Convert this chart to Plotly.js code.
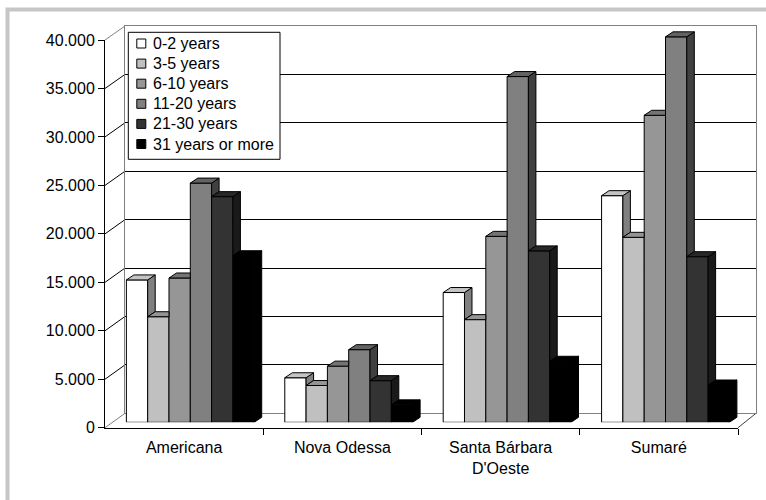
<!DOCTYPE html>
<html>
<head>
<meta charset="utf-8">
<script src="https://cdn.plot.ly/plotly-3.0.1.min.js"></script>
<style>
  html, body { margin: 0; padding: 0; background: #ffffff; }
  #chart { width: 766px; height: 500px; }
</style>
</head>
<body>
<div id="chart"></div>
<script>
// ---------------- DATA ----------------
const categories = ["Americana", "Nova Odessa", "Santa Bárbara<br>D'Oeste", "Sumaré"];
const seriesNames = ["0-2 years", "3-5 years", "6-10 years", "11-20 years", "21-30 years", "31 years or more"];
const years0to2   = [14700, 4600, 13400, 23400];
const years3to5   = [10900, 3800, 10600, 19100];
const years6to10  = [14900, 5800, 19200, 31700];
const years11to20 = [24700, 7500, 35700, 39800];
const years21to30 = [23300, 4300, 17700, 17100];
const years31plus = [17200, 1800, 6300, 3850];
const yTickValues = [0, 5000, 10000, 15000, 20000, 25000, 30000, 35000, 40000];

// ---------------- STYLE / GEOMETRY ----------------
const seriesValues = [years0to2, years3to5, years6to10, years11to20, years21to30, years31plus];
const seriesColors = [[255,255,255],[192,192,192],[150,150,150],[128,128,128],[51,51,51],[0,0,0]];
const W = 766, H = 500;
const FONT = "Liberation Sans, Arial, sans-serif";
const fx = px => px / W;
const fy = py => 1 - py / H;

// planes (pixel geometry)
const FRONT = {x0: 105, x1: 738, yZero: 427.7, yMax: 40};
const BACK  = {x0: 125, x1: 756, yZero: 413.3, yMax: 26};
const BARS  = {x0: 111.1, x1: 744.7, yZero: 422.3, pxPerUnit: 9.685 / 1000};
const yMaxVal = 40000;
const barRangeMax = 42000;
const barTopPx = BARS.yZero - barRangeMax * BARS.pxPerUnit;
const bargap = 0.193;
const depthDxPx = 7.5, depthDyPx = 5;

const nCat = categories.length;
const catPx = (BARS.x1 - BARS.x0) / nCat;
const dX = depthDxPx / catPx;               // data units on bar x-axis
const dY = depthDyPx / BARS.pxPerUnit;      // data units on bar y-axis

const rgb = (c, f) => 'rgb(' + c.map(v => Math.round(v * f)).join(',') + ')';

const traces = [];
// empty traces so back wall and front axis subplots exist
traces.push({type: 'scatter', x: [], y: [], xaxis: 'x', yaxis: 'y', showlegend: false, hoverinfo: 'skip'});
traces.push({type: 'scatter', x: [], y: [], xaxis: 'x2', yaxis: 'y2', showlegend: false, hoverinfo: 'skip'});

const nS = seriesValues.length;
const bw = (1 - bargap) / nS;
const catIdx = categories.map((c, i) => i);

// front faces (bars)
seriesValues.forEach((vals, j) => {
  traces.push({
    type: 'bar', name: seriesNames[j], x: catIdx, y: vals,
    xaxis: 'x3', yaxis: 'y3',
    marker: {color: rgb(seriesColors[j], 1), line: {color: '#000', width: 1}},
    showlegend: false, hoverinfo: 'skip'
  });
});

// top and side faces, computed from the same values
seriesValues.forEach((vals, j) => {
  const topX = [], topY = [], sideX = [], sideY = [];
  vals.forEach((h, i) => {
    const left = i - (1 - bargap) / 2 + j * bw;
    const right = left + bw;
    const hasNext = j < nS - 1;
    const hn = hasNext ? seriesValues[j + 1][i] : -Infinity;
    // top face (clipped by taller right neighbour)
    if (hn >= h + dY) {
      topX.push(left, right, right, left + dX, left, null);
      topY.push(h, h, h + dY, h + dY, h, null);
    } else if (hn > h) {
      const t = (hn - h) / dY;
      topX.push(left, right, right, right + dX * t, right + dX, left + dX, left, null);
      topY.push(h, h, hn, hn, h + dY, h + dY, h, null);
    } else {
      topX.push(left, right, right + dX, left + dX, left, null);
      topY.push(h, h, h + dY, h + dY, h, null);
    }
    // side face (only visible part above right neighbour)
    const lower = hasNext ? hn : 0;
    if (!hasNext || h > hn) {
      sideX.push(right, right, right + dX, right + dX, right, null);
      sideY.push(lower, h, h + dY, lower + dY, lower, null);
    }
  });
  traces.push({type: 'scatter', mode: 'lines', x: sideX, y: sideY, xaxis: 'x3', yaxis: 'y3',
    fill: 'toself', fillcolor: rgb(seriesColors[j], 0.5), line: {color: '#000', width: 1, simplify: false},
    showlegend: false, hoverinfo: 'skip', connectgaps: false});
  traces.push({type: 'scatter', mode: 'lines', x: topX, y: topY, xaxis: 'x3', yaxis: 'y3',
    fill: 'toself', fillcolor: rgb(seriesColors[j], 0.77), line: {color: '#000', width: 1, simplify: false},
    showlegend: false, hoverinfo: 'skip', connectgaps: false});
});

// ---------------- SHAPES (walls, frame, legend) ----------------
const shapes = [];
// outer frame
shapes.push({type: 'rect', xref: 'paper', yref: 'paper', x0: fx(7.5), x1: fx(780), y0: fy(9.5), y1: fy(520),
  line: {color: '#c6c6c6', width: 4}, fillcolor: 'rgba(0,0,0,0)', layer: 'below'});
// left wall slanted gridlines
const yFront = v => FRONT.yZero - v * (FRONT.yZero - FRONT.yMax) / yMaxVal;
const yBack  = v => BACK.yZero - v * (BACK.yZero - BACK.yMax) / yMaxVal;
yTickValues.forEach(v => {
  const edge = (v === 0 || v === yMaxVal);
  shapes.push({type: 'line', xref: 'paper', yref: 'paper',
    x0: fx(FRONT.x0), y0: fy(yFront(v)), x1: fx(BACK.x0), y1: fy(yBack(v)),
    line: {color: edge ? '#808080' : '#000000', width: 1}, layer: 'below'});
});
// right floor edge
shapes.push({type: 'line', xref: 'paper', yref: 'paper',
  x0: fx(FRONT.x1), y0: fy(FRONT.yZero), x1: fx(BACK.x1), y1: fy(BACK.yZero),
  line: {color: '#404040', width: 1}, layer: 'below'});

// legend
const LEG = {x0: 128.3, x1: 280, y0: 32.3, y1: 159.3, firstY: 43.5, step: 20.1, swX: 141.3, sw: 9, textX: 151.5};
shapes.push({type: 'rect', xref: 'paper', yref: 'paper', x0: fx(LEG.x0), x1: fx(LEG.x1), y0: fy(LEG.y0), y1: fy(LEG.y1),
  line: {color: '#000', width: 1}, fillcolor: '#ffffff', layer: 'above'});
const annotations = [];
seriesNames.forEach((name, j) => {
  const cy = LEG.firstY + j * LEG.step;
  shapes.push({type: 'rect', xref: 'paper', yref: 'paper',
    x0: fx(LEG.swX - LEG.sw / 2), x1: fx(LEG.swX + LEG.sw / 2), y0: fy(cy - LEG.sw / 2), y1: fy(cy + LEG.sw / 2),
    line: {color: '#000', width: 1}, fillcolor: rgb(seriesColors[j], 1), layer: 'above'});
  annotations.push({xref: 'paper', yref: 'paper', x: fx(LEG.textX), y: fy(cy), xanchor: 'left', yanchor: 'middle',
    text: name, showarrow: false, font: {family: FONT, size: 16, color: '#000'}, borderpad: 0});
});

// ---------------- LAYOUT ----------------
const layout = {
  width: W, height: H,
  margin: {l: 0, r: 0, t: 0, b: 0, pad: 0},
  paper_bgcolor: '#ffffff', plot_bgcolor: 'rgba(0,0,0,0)',
  showlegend: false, hovermode: false,
  separators: ',.',
  font: {family: FONT, size: 16, color: '#000'},
  barmode: 'group', bargap: bargap, bargroupgap: 0,
  // back wall
  xaxis: {domain: [fx(BACK.x0), fx(BACK.x1)], range: [0, 1], anchor: 'y', showline: true, mirror: true,
    linecolor: '#808080', linewidth: 1, showgrid: false, zeroline: false, showticklabels: false, ticks: '', fixedrange: true, automargin: false},
  yaxis: {domain: [fy(BACK.yZero), fy(BACK.yMax)], range: [0, yMaxVal], anchor: 'x', showline: true, mirror: true,
    linecolor: '#808080', linewidth: 1, showgrid: true, gridcolor: '#000000', gridwidth: 1,
    tickmode: 'array', tickvals: yTickValues.slice(1, -1), zeroline: false, showticklabels: false, ticks: '', fixedrange: true, automargin: false},
  // front axes
  xaxis2: {domain: [fx(FRONT.x0), fx(FRONT.x1)], range: [-0.5, nCat - 0.5], anchor: 'y2', showline: true,
    linecolor: '#000', linewidth: 1, showgrid: false, zeroline: false,
    tickmode: 'array', tickvals: catIdx, ticktext: categories, ticks: 'outside', ticklen: 5, tickcolor: 'rgba(0,0,0,0)',
    tickfont: {family: FONT, size: 16, color: '#000'},
    minor: {tickmode: 'array', tickvals: catIdx.map(i => i + 0.5), ticks: 'outside', ticklen: 6, tickcolor: '#000', tickwidth: 1, showgrid: false},
    fixedrange: true, automargin: false},
  yaxis2: {domain: [fy(FRONT.yZero), fy(FRONT.yMax)], range: [0, yMaxVal], anchor: 'x2', showline: true,
    linecolor: '#000', linewidth: 1, showgrid: false, zeroline: false,
    tickmode: 'array', tickvals: yTickValues, tickformat: ',d', ticks: 'outside', ticklen: 6, tickcolor: '#000',
    tickfont: {family: FONT, size: 16, color: '#000'}, fixedrange: true, automargin: false},
  // bars plane
  xaxis3: {domain: [fx(BARS.x0), fx(BARS.x1)], range: [-0.5, nCat - 0.5], anchor: 'y3', visible: false, fixedrange: true},
  yaxis3: {domain: [fy(BARS.yZero), fy(barTopPx)], range: [0, barRangeMax], anchor: 'x3', visible: false, fixedrange: true},
  shapes: shapes,
  annotations: annotations
};

Plotly.newPlot('chart', traces, layout, {displayModeBar: false, staticPlot: true});
</script>
</body>
</html>
